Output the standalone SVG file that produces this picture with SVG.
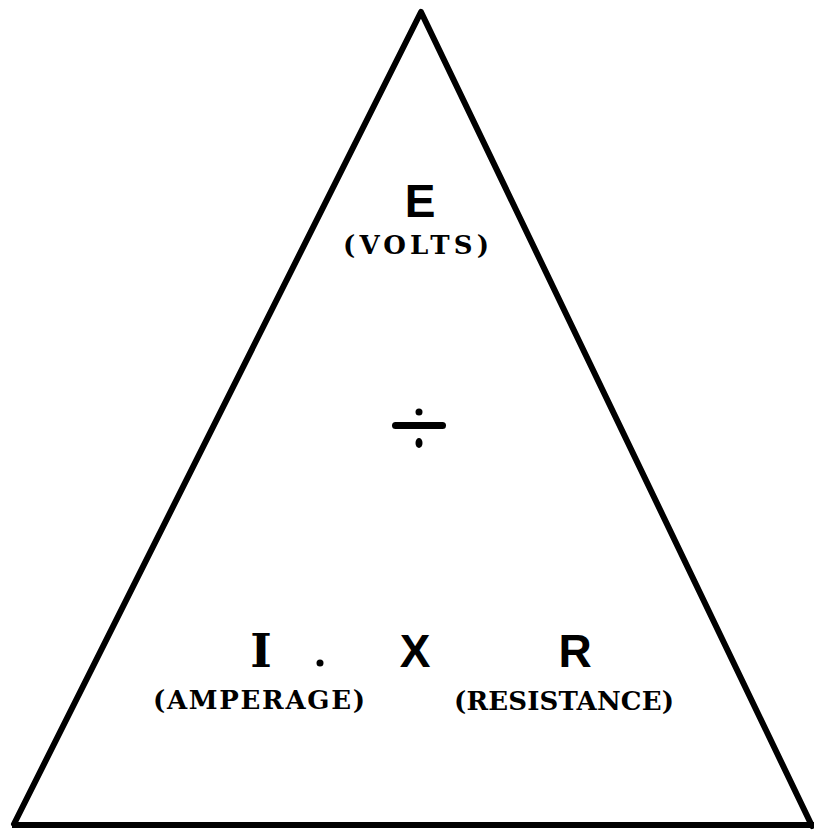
<svg xmlns="http://www.w3.org/2000/svg" width="814" height="832" viewBox="0 0 814 832">
<style>
.big{font-family:"Liberation Sans",Arial,sans-serif;font-weight:bold;font-size:46px;fill:#000;text-anchor:middle}
.bigs{font-family:"DejaVu Serif","Liberation Serif",serif;font-weight:bold;font-size:46px;fill:#000;text-anchor:middle}
.lbl{font-family:"DejaVu Serif","Liberation Serif",serif;font-weight:bold;font-size:26px;fill:#000;text-anchor:middle}
</style>
<rect width="814" height="832" fill="#fff"/>
<g id="connectors">
<path d="M14,824 L421,12 L812,826" fill="none" stroke="#000" stroke-width="6" stroke-linejoin="round" stroke-linecap="round"/>
<line x1="12" y1="825" x2="814" y2="825" stroke="#000" stroke-width="6"/>
</g>
<g id="node-E">
<text class="big" x="420" y="217">E</text>
<text class="lbl" x="416" y="254" textLength="146" lengthAdjust="spacing">(VOLTS)</text>
</g>
<g id="node-divide">
<circle cx="419" cy="412" r="3.5"/>
<rect x="392" y="422" width="54" height="7" rx="3.5"/>
<ellipse cx="419" cy="443" rx="3.5" ry="5"/>
</g>
<g id="node-I">
<text class="bigs" x="261" y="667">I</text>
<circle cx="320" cy="663" r="3.5"/>
<text class="lbl" x="259" y="709" textLength="212" lengthAdjust="spacing">(AMPERAGE)</text>
</g>
<g id="node-X">
<text class="big" x="415" y="667">X</text>
</g>
<g id="node-R">
<text class="big" x="575" y="667">R</text>
<text class="lbl" x="564" y="710" textLength="220" lengthAdjust="spacing">(RESISTANCE)</text>
</g>
</svg>
